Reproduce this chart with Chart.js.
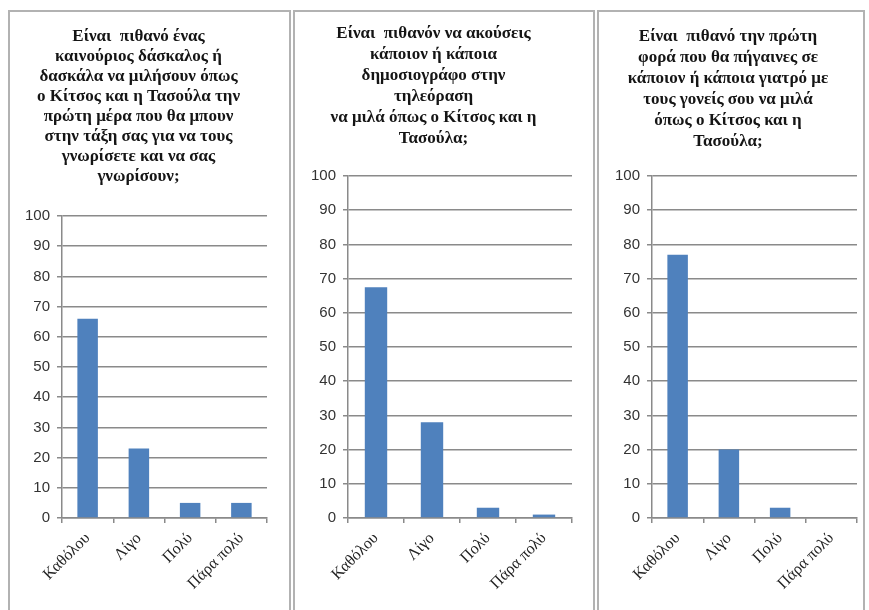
<!DOCTYPE html>
<html>
<head>
<meta charset="utf-8">
<script src="https://cdn.jsdelivr.net/npm/chart.js@4.4.1/dist/chart.umd.min.js"></script>
<style>
  html, body { margin: 0; padding: 0; background: #ffffff; width: 869px; height: 610px; overflow: hidden; }
  .panel { position: absolute; top: 10px; height: 640px; border: 2px solid #b2b2b2; box-sizing: border-box; overflow: hidden; background: #fff; }
  .panel canvas { position: absolute; left: 0; top: 0; }
</style>
</head>
<body>
<div class="panel" id="p1" style="left:8px; width:283px;"><canvas id="c1" width="279" height="598"></canvas></div>
<div class="panel" id="p2" style="left:293px; width:302px;"><canvas id="c2" width="298" height="598"></canvas></div>
<div class="panel" id="p3" style="left:597px; width:268px;"><canvas id="c3" width="264" height="598"></canvas></div>
<script>
// ---- data ----
const categories = ['Καθόλου', 'Λίγο', 'Πολύ', 'Πάρα πολύ'];
const teacherValues = [66, 23, 5, 5];
const journalistValues = [67.5, 28, 3, 1];
const doctorValues = [77, 20, 3, 0];
const yMin = 0;
const yMax = 100;
const yStep = 10;
const teacherTitle = [
  'Είναι  πιθανό ένας',
  'καινούριος δάσκαλος ή',
  'δασκάλα να μιλήσουν όπως',
  'ο Κίτσος και η Τασούλα την',
  'πρώτη μέρα που θα μπουν',
  'στην τάξη σας για να τους',
  'γνωρίσετε και να σας',
  'γνωρίσουν;'
];
const journalistTitle = [
  'Είναι  πιθανόν να ακούσεις',
  'κάποιον ή κάποια',
  'δημοσιογράφο στην',
  'τηλεόραση',
  'να μιλά όπως ο Κίτσος και η',
  'Τασούλα;'
];
const doctorTitle = [
  'Είναι  πιθανό την πρώτη',
  'φορά που θα πήγαινες σε',
  'κάποιον ή κάποια γιατρό με',
  'τους γονείς σου να μιλά',
  'όπως ο Κίτσος και η',
  'Τασούλα;'
];

const gridColor = '#8a8a8a';
const titleSize = 17;

function makeChart(id, values, title, cfg) {
  const ctx = document.getElementById(id);
  return new Chart(ctx, {
    type: 'bar',
    data: {
      labels: categories,
      datasets: [{
        data: values,
        backgroundColor: '#4f81bd',
        borderWidth: 0,
        barPercentage: 0.4,
        categoryPercentage: 1.0
      }]
    },
    options: {
      responsive: false,
      animation: false,
      devicePixelRatio: 1,
      layout: { padding: { left: 0, right: cfg.padRight, top: 0, bottom: 0 } },
      plugins: {
        legend: { display: false },
        tooltip: { enabled: false },
        title: {
          display: true,
          text: title,
          color: '#151515',
          font: { family: '"Liberation Serif", "DejaVu Serif", serif', size: titleSize, weight: 'bold', lineHeight: cfg.lineHeight / titleSize },
          padding: { top: cfg.titleTop, bottom: cfg.titleBottom }
        }
      },
      scales: {
        x: {
          grid: { display: true, drawOnChartArea: false, drawTicks: true, tickLength: 5, color: gridColor, lineWidth: 1.5, offset: true },
          border: { display: true, color: gridColor, width: 1.5 },
          ticks: {
            autoSkip: false, minRotation: 45, maxRotation: 45, padding: 6,
            color: '#222222',
            font: { family: '"Liberation Serif", "DejaVu Serif", serif', size: 16 }
          },
          afterFit: function (scale) { scale.height = cfg.xHeight; }
        },
        y: {
          min: yMin, max: yMax,
          grid: { display: true, drawTicks: true, tickLength: 5, color: gridColor, lineWidth: 1.5 },
          border: { display: true, color: gridColor, width: 1.5 },
          ticks: {
            stepSize: yStep, padding: 7,
            color: '#333333',
            font: { family: '"Liberation Sans", Arial, sans-serif', size: 15 }
          },
          afterFit: function (scale) { scale.width = cfg.yWidth; }
        }
      }
    }
  });
}

makeChart('c1', teacherValues, teacherTitle, { padRight: 22, lineHeight: 20, titleTop: 15, titleBottom: 29, xHeight: 92, yWidth: 52 });
makeChart('c2', journalistValues, journalistTitle, { padRight: 21, lineHeight: 21, titleTop: 11, titleBottom: 27, xHeight: 92, yWidth: 53 });
makeChart('c3', doctorValues, doctorTitle, { padRight: 6, lineHeight: 21, titleTop: 14, titleBottom: 24, xHeight: 92, yWidth: 53 });
</script>
</body>
</html>
